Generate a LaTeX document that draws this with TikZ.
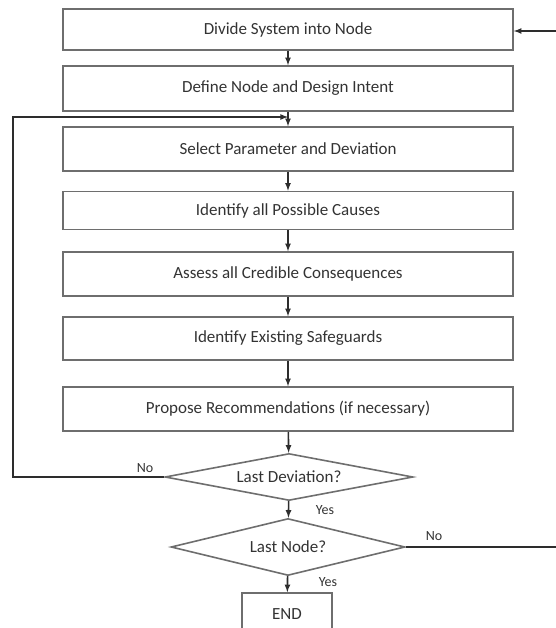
\documentclass[tikz,border=0pt]{standalone}
\usepackage{fontspec}
\setmainfont{Carlito}
\usetikzlibrary{shapes.geometric}
\definecolor{boxgray}{RGB}{110,110,110}
\definecolor{linegray}{RGB}{45,45,45}
\begin{document}
\begin{tikzpicture}[x=1pt,y=-1pt,>=latex,
	stepbox/.style={draw=boxgray,line width=1.6pt,minimum width=450pt,minimum height=42pt,inner sep=0pt,text=black!80,font=\fontsize{17}{20}\selectfont},
	decision/.style={diamond,draw=boxgray,line width=1.6pt,inner sep=0pt,text=black!80,font=\fontsize{17}{20}\selectfont},
	lbl/.style={text=black!80,font=\fontsize{14}{16}\selectfont,inner sep=0pt},
	flow/.style={draw=linegray,line width=1.6pt,->}]
	\useasboundingbox (0,0) rectangle (555,628);
	\node[stepbox,minimum height=41pt] (divide) at (288,29.5) {Divide System into Node};
	\node[stepbox,minimum height=45pt] (define) at (288,88.5) {Define Node and Design Intent};
	\node[stepbox,minimum height=44pt] (select) at (288,149) {Select Parameter and Deviation};
	\node[stepbox,minimum height=38pt] (causes) at (288,210.5) {Identify all Possible Causes};
	\node[stepbox,minimum height=44pt] (conseq) at (288,274) {Assess all Credible Consequences};
	\node[stepbox,minimum height=43pt] (guards) at (288,338.5) {Identify Existing Safeguards};
	\node[stepbox,minimum height=44pt] (recomm) at (288,409) {Propose Recommendations (if necessary)};
	\node[decision,aspect=5.3,minimum width=248pt,minimum height=47pt] (lastdev) at (289,477) {Last Deviation?};
	\node[decision,aspect=4.1,minimum width=234pt,minimum height=57pt] (lastnode) at (288,547) {Last Node?};
	\node[stepbox,minimum width=90pt,minimum height=43pt] (end) at (287,614.5) {END};
	\coordinate (join) at (288,117);
	\coordinate (leftturn) at (13,477);
	\coordinate (rightdown) at (559,547);
	\coordinate (rightup) at (559,31);
	% main flow
	\draw[flow] (divide) -- (define);
	\draw[flow] (define) -- (select);
	\draw[flow] (select) -- (causes);
	\draw[flow] (causes) -- (conseq);
	\draw[flow] (conseq) -- (guards);
	\draw[flow] (guards) -- (recomm);
	\draw[flow] (recomm) -- (lastdev);
	\draw[flow] (lastdev) -- (lastnode);
	\draw[flow] (lastnode) -- (end);
	% loops back
	\draw[flow] (lastdev.west) -- (leftturn) |- (join);
	\draw[flow] (lastnode.east) -- (rightdown) -- (rightup) -- (divide.east |- rightup);
	\node[lbl] (nodev) at (145,468) {No};
	\node[lbl] (yesdev) at (325,510) {Yes};
	\node[lbl] (nonode) at (434,536) {No};
	\node[lbl] (yesnode) at (328,582) {Yes};
\end{tikzpicture}
\end{document}
